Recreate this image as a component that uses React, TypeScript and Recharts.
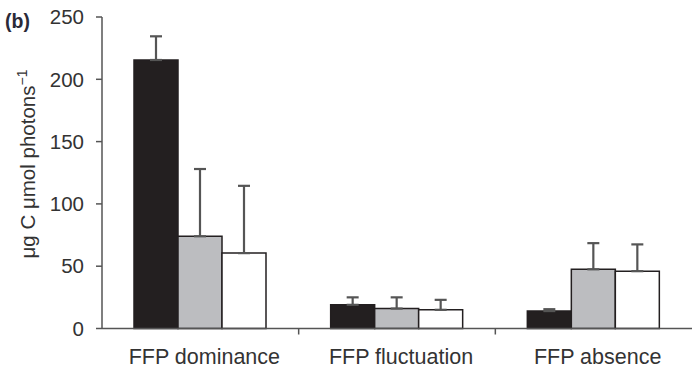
import React from 'react';
import { BarChart, Bar, XAxis, YAxis, ErrorBar } from 'recharts';

const categories = ['FFP dominance', 'FFP fluctuation', 'FFP absence'];
const blackValues = [215.5, 19, 14];
const grayValues = [74, 16, 47.5];
const whiteValues = [60.5, 15, 46];
const blackErrors = [19, 6, 1.5];
const grayErrors = [54, 9, 21];
const whiteErrors = [54, 8, 21.5];
const yTicks = [0, 50, 100, 150, 200, 250];

const data = categories.map((c, i) => ({
  cat: c,
  black: blackValues[i],
  gray: grayValues[i],
  white: whiteValues[i],
  blackErr: [0, blackErrors[i]],
  grayErr: [0, grayErrors[i]],
  whiteErr: [0, whiteErrors[i]],
}));

const FONT = '"Liberation Sans", Arial, sans-serif';
const AXIS = '#555';
const OUTLINE = '#231f20';

const XTick = (props: any) => {
  const { x, y, payload, index } = props;
  const off = payload && payload.offset ? payload.offset : 0;
  return (
    <g>
      {index < categories.length - 1 && (
        <line x1={x + off} x2={x + off} y1={y - 8} y2={y - 2} stroke={AXIS} strokeWidth={1.5} />
      )}
      <text x={x + 4} y={y + 27} textAnchor="middle" fontFamily={FONT} fontSize={21.5} fill="#333">
        {payload.value}
      </text>
    </g>
  );
};

const YLabel = () => (
  <g>
    <text x={5} y={28} fontFamily={FONT} fontSize={19.5} fontWeight="bold" fill="#2a2a38">
      (b)
    </text>
    <text
      transform="translate(35,164) rotate(-90)"
      textAnchor="middle"
      fontFamily={FONT}
      fontSize={20.5}
      fill="#333"
    >
      μg C μmol photons
      <tspan dy={-8} fontSize={14}>−1</tspan>
    </text>
  </g>
);

export default function App() {
  return (
    <div style={{ position: 'absolute', left: 0, top: 0, width: 692, height: 372, background: '#fff' }}>
      <BarChart
        width={692}
        height={372}
        data={data}
        margin={{ top: 17, right: 0, bottom: 0, left: 0 }}
        barCategoryGap={32}
        barGap={0}
      >
        <XAxis
          dataKey="cat"
          stroke={AXIS}
          strokeWidth={1.5}
          tickLine={false}
          tick={<XTick />}
          height={43.5}
          interval={0}
        />
        <YAxis
          domain={[0, 250]}
          ticks={yTicks}
          width={102}
          stroke={AXIS}
          strokeWidth={1.5}
          tickSize={6}
          tickMargin={12}
          tick={{ fontFamily: FONT, fontSize: 20.5, fill: '#333' }}
          interval={0}
          label={<YLabel />}
        />
        <Bar dataKey="black" fill={OUTLINE} stroke={OUTLINE} strokeWidth={1.5} isAnimationActive={false}>
          <ErrorBar dataKey="blackErr" width={6} stroke="#555" strokeWidth={2.2} direction="y" />
        </Bar>
        <Bar dataKey="gray" fill="#bcbdc0" stroke={OUTLINE} strokeWidth={1.5} isAnimationActive={false}>
          <ErrorBar dataKey="grayErr" width={6} stroke="#555" strokeWidth={2.2} direction="y" />
        </Bar>
        <Bar dataKey="white" fill="#ffffff" stroke={OUTLINE} strokeWidth={1.5} isAnimationActive={false}>
          <ErrorBar dataKey="whiteErr" width={6} stroke="#555" strokeWidth={2.2} direction="y" />
        </Bar>
      </BarChart>
    </div>
  );
}
